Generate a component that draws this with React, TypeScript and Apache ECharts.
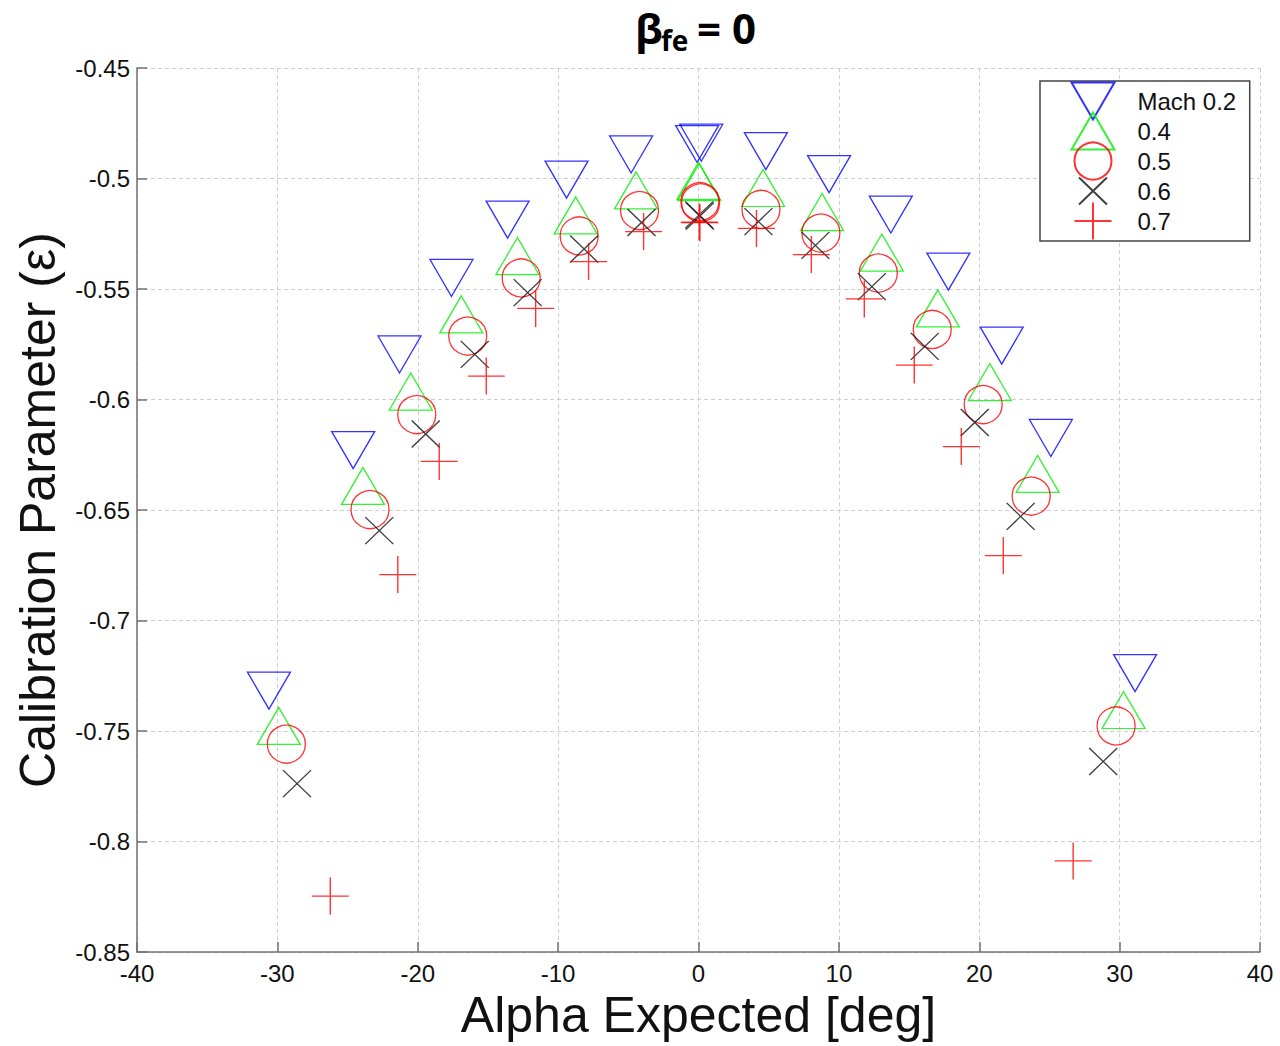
import React, { useEffect, useRef } from "react";
import * as echarts from "echarts";

// Angle of attack sweep (deg) and calibration parameter for each Mach number
const mach02Alpha = [-30.6, -24.6, -21.3, -17.6, -13.6, -9.4, -4.8, -0.1, 0.2, 4.8, 9.3, 13.7, 17.8, 21.6, 25.1, 31.1];
const mach02Eps = [-0.7317, -0.6229, -0.5796, -0.545, -0.5186, -0.5005, -0.4891, -0.4844, -0.4838, -0.4876, -0.498, -0.5163, -0.5421, -0.5756, -0.6174, -0.7238];

const mach04Alpha = [-29.9, -23.9, -20.5, -16.9, -12.9, -8.75, -4.45, 0, 0.05, 4.6, 8.8, 13.06, 17.05, 20.75, 24.16, 30.28];
const mach04Eps = [-0.7477, -0.6391, -0.5964, -0.5615, -0.5351, -0.5167, -0.5054, -0.5011, -0.5016, -0.5043, -0.5152, -0.5335, -0.5588, -0.5921, -0.6337, -0.7405];

const mach05Alpha = [-29.36, -23.4, -20.07, -16.44, -12.63, -8.5, -4.2, 0.1, 0.15, 4.45, 8.72, 12.81, 16.65, 20.28, 23.7, 29.75];
const mach05Eps = [-0.7559, -0.6498, -0.6068, -0.5713, -0.545, -0.526, -0.5145, -0.5104, -0.511, -0.514, -0.5247, -0.5428, -0.5683, -0.6023, -0.6437, -0.7477];

const mach06Alpha = [-28.6, -22.74, -19.43, -15.94, -12.17, -8.15, -4.06, 0.05, 0.1, 4.27, 8.33, 12.35, 16.12, 19.68, 22.95, 28.83];
const mach06Eps = [-0.7738, -0.6593, -0.6156, -0.5796, -0.5516, -0.5319, -0.5199, -0.5165, -0.517, -0.5195, -0.5303, -0.5489, -0.576, -0.6104, -0.6529, -0.7638];

const mach07Alpha = [-26.23, -21.42, -18.47, -15.12, -11.6, -7.83, -3.91, 0.05, 0.1, 4.13, 8.04, 11.81, 15.37, 18.72, 21.71, 26.69];
const mach07Eps = [-0.8247, -0.6792, -0.628, -0.5894, -0.5588, -0.5376, -0.524, -0.5197, -0.52, -0.5226, -0.5344, -0.5545, -0.5844, -0.6213, -0.6706, -0.8088];

const seriesNames = ["Mach 0.2", "0.4", "0.5", "0.6", "0.7"];

// Axis ranges and tick spacing
const X_MIN = -40;
const X_MAX = 40;
const X_STEP = 10;
const Y_MIN = -0.85;
const Y_MAX = -0.45;
const Y_STEP = 0.05;

const AXIS_FONT = '"Liberation Sans", Arial, sans-serif';
const TITLE_FONT = '"Open Sans", sans-serif';

// Open marker outlines drawn inside a 43x37 frame so that plot and legend share one size
const TRI_DOWN = "path://M0,0L43,0L21.5,37Z";
const CROSS_X = "path://M0,0M43,37M7.5,5L35.5,32M35.5,5L7.5,32";
const CROSS_PLUS = "path://M0,0M43,37M21.5,0L21.5,37M3,18.5L40,18.5";

const zipPts = (xs: number[], ys: number[]) => xs.map((x, i) => [x, ys[i]]);

function openMarker(color: string) {
  return { color: "transparent", borderColor: color, borderWidth: 1.3 };
}

export default function App() {
  const ref = useRef<HTMLDivElement>(null);

  useEffect(() => {
    if (!ref.current) return;
    const chart = echarts.init(ref.current, undefined, { renderer: "svg" });

    const option = {
      animation: false,
      backgroundColor: "#ffffff",
      graphic: [
        {
          type: "text",
          x: 635,
          y: 6,
          style: { text: "β", fontFamily: TITLE_FONT, fontWeight: "bold", fontSize: 42, fill: "#000", verticalAlign: "top" },
        },
        {
          type: "text",
          x: 661,
          y: 26,
          style: { text: "fe", fontFamily: TITLE_FONT, fontWeight: "bold", fontSize: 28, fill: "#000", verticalAlign: "top" },
        },
        {
          type: "text",
          x: 697,
          y: 6,
          style: { text: "= 0", fontFamily: TITLE_FONT, fontWeight: "bold", fontSize: 42, fill: "#000", verticalAlign: "top" },
        },
      ],
      grid: { left: 137, right: 20, top: 68, bottom: 94, containLabel: false },
      legend: {
        orient: "vertical",
        left: 1040,
        top: 81,
        itemWidth: 43,
        itemHeight: 37,
        itemGap: -9,
        padding: [0.5, 13.5, 0.5, 30.5],
        borderColor: "#444",
        borderWidth: 1.5,
        backgroundColor: "#fff",
        data: [
          { name: seriesNames[0], icon: TRI_DOWN },
          { name: seriesNames[1] },
          { name: seriesNames[2] },
          { name: seriesNames[3] },
          { name: seriesNames[4] },
        ],
        formatter: (name: string) => `{pad|}${name}`,
        textStyle: {
          fontFamily: AXIS_FONT,
          fontSize: 24,
          color: "#111",
          rich: { pad: { width: 18 } },
        },
      },
      xAxis: {
        type: "value",
        min: X_MIN,
        max: X_MAX,
        interval: X_STEP,
        name: "Alpha Expected [deg]",
        nameLocation: "middle",
        nameGap: 36,
        nameTextStyle: { fontFamily: AXIS_FONT, fontSize: 50, color: "#111" },
        axisLine: { onZero: false, lineStyle: { color: "#707070", width: 1.5 } },
        axisTick: { inside: true, length: 10, lineStyle: { color: "#707070", width: 1.5 } },
        axisLabel: { fontFamily: AXIS_FONT, fontSize: 24, color: "#111", margin: 9 },
        splitLine: { show: true, lineStyle: { color: "#cfcfcf", type: [4, 3], width: 1 } },
      },
      yAxis: {
        type: "value",
        min: Y_MIN,
        max: Y_MAX,
        interval: Y_STEP,
        name: "Calibration Parameter (ε)",
        nameLocation: "middle",
        nameGap: 74,
        nameTextStyle: { fontFamily: AXIS_FONT, fontSize: 50, color: "#111" },
        axisLine: { onZero: false, lineStyle: { color: "#707070", width: 1.5 } },
        axisTick: { inside: true, length: 10, lineStyle: { color: "#707070", width: 1.5 } },
        axisLabel: {
          fontFamily: AXIS_FONT,
          fontSize: 24,
          color: "#111",
          margin: 7,
          formatter: (v: number) => String(Number(v.toFixed(2))),
        },
        splitLine: { show: true, lineStyle: { color: "#cfcfcf", type: [4, 3], width: 1 } },
      },
      series: [
        {
          name: seriesNames[0],
          type: "scatter",
          symbol: TRI_DOWN,
          symbolSize: [43, 37],
          itemStyle: openMarker("#0000ff"),
          data: zipPts(mach02Alpha, mach02Eps),
        },
        {
          name: seriesNames[1],
          type: "scatter",
          symbol: "triangle",
          symbolSize: [43, 37],
          itemStyle: openMarker("#00ee00"),
          data: zipPts(mach04Alpha, mach04Eps),
        },
        {
          name: seriesNames[2],
          type: "scatter",
          symbol: "circle",
          symbolSize: 38,
          itemStyle: openMarker("#ff0000"),
          data: zipPts(mach05Alpha, mach05Eps),
        },
        {
          name: seriesNames[3],
          type: "scatter",
          symbol: CROSS_X,
          symbolSize: [43, 37],
          itemStyle: openMarker("#111111"),
          data: zipPts(mach06Alpha, mach06Eps),
        },
        {
          name: seriesNames[4],
          type: "scatter",
          symbol: CROSS_PLUS,
          symbolSize: [43, 37],
          itemStyle: openMarker("#ff0000"),
          data: zipPts(mach07Alpha, mach07Eps),
        },
      ],
    };

    chart.setOption(option as any);
    return () => chart.dispose();
  }, []);

  return (
    <div
      ref={ref}
      style={{ position: "fixed", left: 0, top: 0, width: 1280, height: 1046, background: "#fff" }}
    />
  );
}
